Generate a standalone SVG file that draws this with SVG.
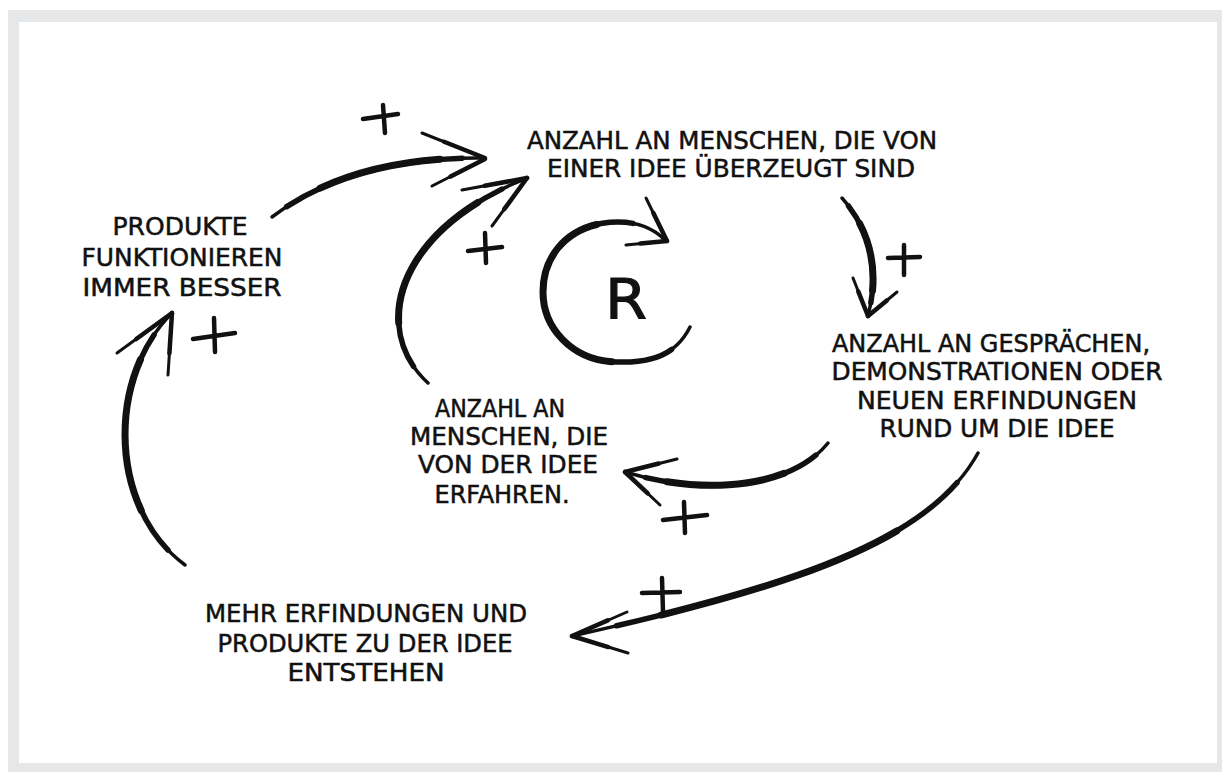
<svg xmlns="http://www.w3.org/2000/svg" xmlns:xlink="http://www.w3.org/1999/xlink" width="1222" height="772" viewBox="0 0 1222 772">
<style>
.lbl{font-family:"Liberation Sans Narrow","DejaVu Sans Condensed","Liberation Sans",sans-serif;font-size:25.5px;fill:#111;stroke:#111;stroke-width:0.5;text-anchor:middle}
.big{font-size:56px;stroke-width:1}
.s{fill:none;stroke:#111;stroke-linecap:round;stroke-linejoin:round}
.t1{stroke-width:3.5}
.t2{stroke-width:5.5;stroke-dasharray:82 200;stroke-dashoffset:-8}
.t3{stroke-width:7;stroke-dasharray:55 200;stroke-dashoffset:-25}
.a1{stroke-width:3}
.a2{stroke-width:4.5;stroke-dasharray:65 200;stroke-dashoffset:-35}
.pl{stroke-width:4.5}
</style>
<defs>
<path id="p1" pathLength="100" d="M272,217 Q352,156 485,158"/>
<path id="p1a" pathLength="100" d="M422,133 L485,158"/>
<path id="p1b" pathLength="100" d="M432,186 L485,159"/>
<path id="p2" pathLength="100" d="M428,383 C370,330 395,230 527,178"/>
<path id="p2a" pathLength="100" d="M462,190 L527,178"/>
<path id="p2b" pathLength="100" d="M492,226 L527,178"/>
<path id="p3" pathLength="100" d="M842,198 C875,235 878,280 868,315"/>
<path id="p3a" pathLength="100" d="M853,278 L868,316"/>
<path id="p3b" pathLength="100" d="M897,292 L868,316"/>
<path id="p4" pathLength="100" d="M828,443 C790,490 700,495 625,472"/>
<path id="p4a" pathLength="100" d="M677,459 L625,472"/>
<path id="p4b" pathLength="100" d="M660,505 L625,472"/>
<path id="p5" pathLength="100" d="M978,453 C930,540 800,585 572,636"/>
<path id="p5a" pathLength="100" d="M627,612 L572,636"/>
<path id="p5b" pathLength="100" d="M628,653 L572,636"/>
<path id="p6" pathLength="100" d="M185,565 C110,510 105,380 172,313"/>
<path id="p6a" pathLength="100" d="M117,353 L172,313"/>
<path id="p6b" pathLength="100" d="M168,375 L172,313"/>
<path id="pr" pathLength="100" d="M690,327 C675,357 648,363 618,362 C575,362 543,330 543,292 C543,250 575,222 618,222 C640,222 655,230 665,240"/>
<path id="pra" pathLength="100" d="M646,198 L667,241"/>
<path id="prb" pathLength="100" d="M626,245 L667,241"/>
</defs>
<rect x="8" y="10" width="1214" height="762" fill="#e6e7e8"/>
<rect x="19" y="22" width="1198" height="741" fill="#ffffff"/>

<g id="connectors" class="s">
<use href="#p1" class="t1"/><use href="#p1" class="t2"/><use href="#p1" class="t3"/>
<use href="#p1a" class="a1"/><use href="#p1a" class="a2"/><use href="#p1b" class="a1"/><use href="#p1b" class="a2"/>
<use href="#p2" class="t1"/><use href="#p2" class="t2"/><use href="#p2" class="t3"/>
<use href="#p2a" class="a1"/><use href="#p2a" class="a2"/><use href="#p2b" class="a1"/><use href="#p2b" class="a2"/>
<use href="#p3" class="t1"/><use href="#p3" class="t2"/><use href="#p3" class="t3"/>
<use href="#p3a" class="a1"/><use href="#p3a" class="a2"/><use href="#p3b" class="a1"/><use href="#p3b" class="a2"/>
<use href="#p4" class="t1"/><use href="#p4" class="t2"/><use href="#p4" class="t3"/>
<use href="#p4a" class="a1"/><use href="#p4a" class="a2"/><use href="#p4b" class="a1"/><use href="#p4b" class="a2"/>
<use href="#p5" class="t1"/><use href="#p5" class="t2"/><use href="#p5" class="t3"/>
<use href="#p5a" class="a1"/><use href="#p5a" class="a2"/><use href="#p5b" class="a1"/><use href="#p5b" class="a2"/>
<use href="#p6" class="t1"/><use href="#p6" class="t2"/><use href="#p6" class="t3"/>
<use href="#p6a" class="a1"/><use href="#p6a" class="a2"/><use href="#p6b" class="a1"/><use href="#p6b" class="a2"/>
<use href="#pr" class="t1"/><use href="#pr" class="t2"/><use href="#pr" class="t3"/>
<use href="#pra" class="a1"/><use href="#pra" class="a2"/><use href="#prb" class="a1"/><use href="#prb" class="a2"/>
<g id="plus-signs" class="pl">
<path d="M363,119 L398,114 M383,105 L385,133"/>
<path d="M468,251 L502,247 M485,233 L486,263"/>
<path d="M888,258 L920,257 M904,245 L904,275"/>
<path d="M663,520 L707,515 M684,502 L685,533"/>
<path d="M642,593 L680,592 M662,578 L663,612"/>
<path d="M193,339 L235,333 M214,318 L215,352"/>
</g>
</g>

<g id="node-top">
<text class="lbl" x="732" y="149" textLength="410" lengthAdjust="spacingAndGlyphs">ANZAHL AN MENSCHEN, DIE VON</text>
<text class="lbl" x="731" y="177" textLength="368" lengthAdjust="spacingAndGlyphs">EINER IDEE ÜBERZEUGT SIND</text>
</g>
<g id="node-right">
<text class="lbl" x="991" y="352" textLength="318" lengthAdjust="spacingAndGlyphs">ANZAHL AN GESPRÄCHEN,</text>
<text class="lbl" x="997" y="380" textLength="331" lengthAdjust="spacingAndGlyphs">DEMONSTRATIONEN ODER</text>
<text class="lbl" x="997" y="409" textLength="280" lengthAdjust="spacingAndGlyphs">NEUEN ERFINDUNGEN</text>
<text class="lbl" x="997" y="437" textLength="235" lengthAdjust="spacingAndGlyphs">RUND UM DIE IDEE</text>
</g>
<g id="node-center">
<text class="lbl" x="500" y="417" textLength="130" lengthAdjust="spacingAndGlyphs">ANZAHL AN</text>
<text class="lbl" x="509" y="445" textLength="198" lengthAdjust="spacingAndGlyphs">MENSCHEN, DIE</text>
<text class="lbl" x="508" y="473" textLength="180" lengthAdjust="spacingAndGlyphs">VON DER IDEE</text>
<text class="lbl" x="502" y="503" textLength="135" lengthAdjust="spacingAndGlyphs">ERFAHREN.</text>
</g>
<g id="node-left">
<text class="lbl" x="180" y="235" textLength="135" lengthAdjust="spacingAndGlyphs">PRODUKTE</text>
<text class="lbl" x="182" y="266" textLength="201" lengthAdjust="spacingAndGlyphs">FUNKTIONIEREN</text>
<text class="lbl" x="182" y="296" textLength="199" lengthAdjust="spacingAndGlyphs">IMMER BESSER</text>
</g>
<g id="node-bottom">
<text class="lbl" x="366" y="622" textLength="322" lengthAdjust="spacingAndGlyphs">MEHR ERFINDUNGEN UND</text>
<text class="lbl" x="365" y="652" textLength="295" lengthAdjust="spacingAndGlyphs">PRODUKTE ZU DER IDEE</text>
<text class="lbl" x="366" y="681" textLength="157" lengthAdjust="spacingAndGlyphs">ENTSTEHEN</text>
</g>
<g id="node-r">
<text class="lbl big" x="626" y="318" textLength="42" lengthAdjust="spacingAndGlyphs">R</text>
</g>
</svg>
